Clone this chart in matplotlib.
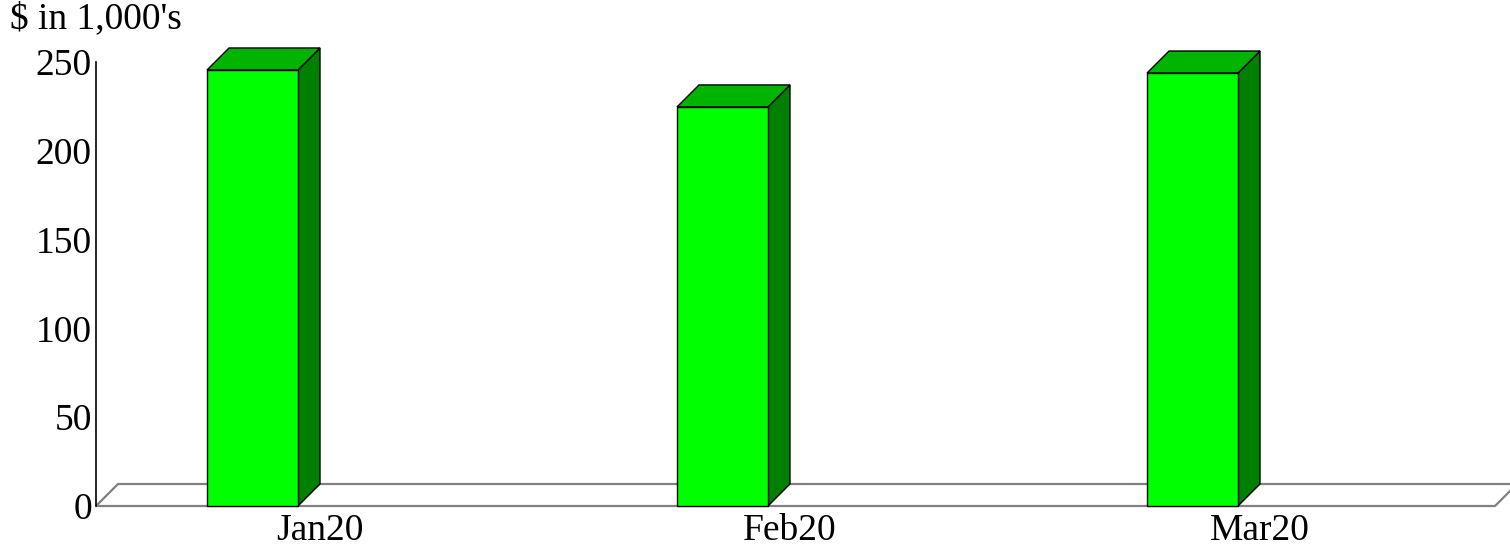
import numpy as np
import matplotlib
matplotlib.use("Agg")
from matplotlib import pyplot as plt
from matplotlib.patches import Polygon

# data
months = ["Jan20", "Feb20", "Mar20"]
values = [245.5, 224.7, 243.8]
y_ticks = [0, 50, 100, 150, 200, 250]

plt.rcParams['font.family'] = ['Liberation Serif', 'DejaVu Serif']

fig = plt.figure(figsize=(15.1, 5.46), dpi=100)
W, H = 1510, 546
ax = fig.add_axes([96 / W, 40 / H, (W - 96) / W, 444 / H])

# one category = 470 px, one value unit = 1.776 px
xmin, xmax = -156.5 / 470, (1414 - 156.5) / 470
ax.set_xlim(xmin, xmax)
ax.set_ylim(0, 250)

bw = 91 / 470          # bar width
dx = 22 / 470          # depth in x
dy = 22 / (444 / 250)  # depth in y

# floor
floor_right = (1399 - 156.5) / 470
floor = [(xmin, 0), (floor_right, 0), (floor_right + dx, dy), (xmin + dx, dy)]
ax.add_patch(Polygon(floor, closed=True, facecolor='white', edgecolor='#808080',
                     lw=1.6, clip_on=False, zorder=1))

for i, v in enumerate(values):
    x0 = i - bw / 2
    x1 = i + bw / 2
    front = [(x0, 0), (x1, 0), (x1, v), (x0, v)]
    side = [(x1, 0), (x1 + dx, dy), (x1 + dx, v + dy), (x1, v)]
    top = [(x0, v), (x1, v), (x1 + dx, v + dy), (x0 + dx, v + dy)]
    ax.add_patch(Polygon(side, closed=True, facecolor='#008000', edgecolor='black',
                         lw=1, clip_on=False, zorder=3))
    ax.add_patch(Polygon(top, closed=True, facecolor='#00B400', edgecolor='black',
                         lw=1, clip_on=False, zorder=3))
    ax.add_patch(Polygon(front, closed=True, facecolor='#00FF00', edgecolor='black',
                         lw=1, clip_on=False, zorder=4))
    ax.text(x1 + dx, -4, months[i], ha='center', va='top', fontsize=27)

for s in ['top', 'right', 'bottom']:
    ax.spines[s].set_visible(False)
ax.spines['left'].set_linewidth(1.2)
ax.set_xticks([])
ax.set_yticks(y_ticks)
ax.set_yticklabels([str(t) for t in y_ticks], fontsize=27)
ax.tick_params(axis='y', length=0, pad=3)
ax.patch.set_alpha(0)

fig.text(10 / W, 1 - 2 / H, "$ in 1,000's", ha='left', va='top', fontsize=27)

fig.savefig('out.png', dpi=100)
